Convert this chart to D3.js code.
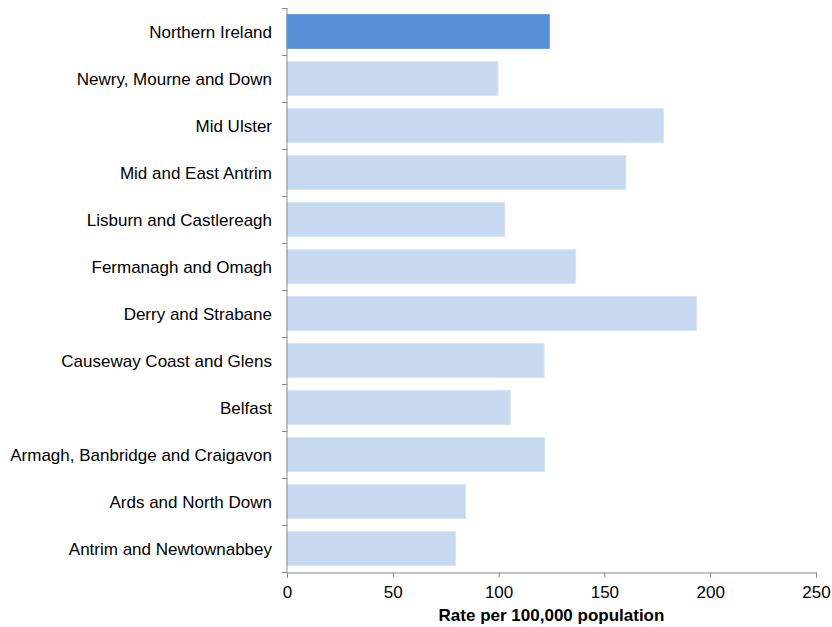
<!DOCTYPE html>
<html><head><meta charset="utf-8">
<script src="https://cdn.jsdelivr.net/npm/d3@7"></script>
<style>body{margin:0;background:#fff}svg{display:block}text{font-family:"Liberation Sans",Arial,sans-serif}</style>
</head><body>
<script>
const categories = ["Northern Ireland","Newry, Mourne and Down","Mid Ulster","Mid and East Antrim","Lisburn and Castlereagh","Fermanagh and Omagh","Derry and Strabane","Causeway Coast and Glens","Belfast","Armagh, Banbridge and Craigavon","Ards and North Down","Antrim and Newtownabbey"];
const values = [124, 99.7, 177.9, 160.1, 102.9, 136.4, 193.6, 121.5, 105.5, 121.8, 84.4, 79.6];
const highlight = ["Northern Ireland"];
const xTicks = [0, 50, 100, 150, 200, 250];
const xTitle = "Rate per 100,000 population";

const W = 832, H = 627;
const m = {left: 287, right: 16, top: 8, bottom: 55};
const svg = d3.select("body").append("svg").attr("width", W).attr("height", H);
const x = d3.scaleLinear().domain([0, 250]).range([m.left, W - m.right]);
const y = d3.scaleBand().domain(categories).range([m.top, H - m.bottom]).paddingInner(0.28).paddingOuter(0.14);
const axisColor = "#898989";

svg.append("g").selectAll("rect").data(categories).join("rect")
  .attr("x", x(0)).attr("y", d => y(d))
  .attr("width", (d, i) => x(values[i]) - x(0))
  .attr("height", y.bandwidth())
  .attr("fill", d => highlight.includes(d) ? "#558ED5" : "#C6D9F1")
  .attr("stroke", d => highlight.includes(d) ? "#6c9ddb" : "#d6e3f5")
  .attr("stroke-width", 1);

const yg = svg.append("g");
yg.append("line").attr("x1", x(0)).attr("x2", x(0)).attr("y1", m.top).attr("y2", H - m.bottom).attr("stroke", axisColor);
const sepPos = d3.range(categories.length + 1).map(i => m.top + i * (H - m.bottom - m.top) / categories.length);
yg.selectAll("line.t").data(sepPos).join("line").attr("class", "t")
  .attr("x1", x(0) - 5).attr("x2", x(0)).attr("y1", d => Math.round(d) + 0.5).attr("y2", d => Math.round(d) + 0.5).attr("stroke", axisColor);
yg.selectAll("text").data(categories).join("text")
  .attr("x", 272).attr("y", d => y(d) + y.bandwidth() / 2 + 1)
  .attr("dy", "0.35em").attr("text-anchor", "end")
  .attr("font-size", 17).attr("fill", "#000").text(d => d);

const xa = d3.axisBottom(x).tickValues(xTicks).tickSize(5).tickFormat(d3.format("d"));
const xg = svg.append("g").attr("transform", `translate(0,${H - m.bottom + 0.5})`).call(xa);
xg.select(".domain").attr("stroke", axisColor);
xg.selectAll(".tick line").attr("stroke", axisColor);
xg.selectAll(".tick text").attr("font-size", 17).attr("fill", "#000").attr("y", 13).attr("font-family", '"Liberation Sans",Arial,sans-serif');

svg.append("text").attr("x", (x(0) + x(250)) / 2).attr("y", 621)
  .attr("text-anchor", "middle").attr("font-size", 17).attr("font-weight", "bold").text(xTitle);
</script>
</body></html>
